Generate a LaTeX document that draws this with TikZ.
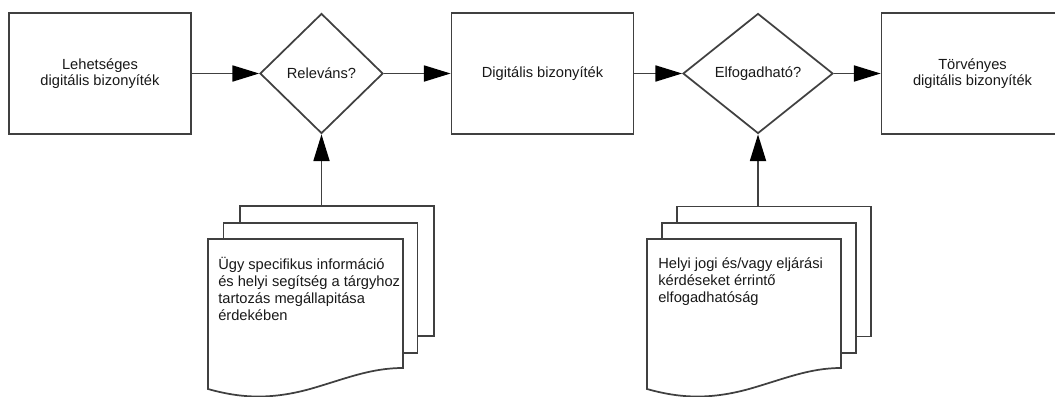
\documentclass[tikz,border=0pt]{standalone}
\usepackage{fontspec}
\setmainfont{Liberation Sans}
\usetikzlibrary{shapes.geometric,arrows.meta}

\begin{document}
\begin{tikzpicture}[x=0.75pt,y=-0.75pt,
  line/.style={draw=black!75, line width=1.3pt},
  arr/.style={line, -{Triangle[length=20pt,width=12pt,color=black,fill=black]}},
  procbox/.style={line, rectangle, fill=white, minimum width=136.5pt, minimum height=90.75pt, inner sep=0pt, align=center, text=black!90, font=\fontsize{11}{11.5}\selectfont},
  decision/.style={line, diamond, fill=white, inner sep=0pt, minimum height=90pt, text=black!90, font=\fontsize{11}{13}\selectfont},
  sheet/.style={line, rectangle, fill=white, minimum width=145.5pt, minimum height=97.5pt, inner sep=0pt},
  doctext/.style={anchor=north west, inner sep=0pt, align=left, text=black!90, font=\fontsize{11}{12.75}\selectfont}
]
\useasboundingbox (0,0) rectangle (1055,396);

% main flow
\node[procbox] (b1) at (100,73.5) {Lehetséges\\digitális bizonyíték};
\node[decision, minimum width=92.25pt] (d1) at (321.5,73.5) {Releváns?};
\node[procbox] (b2) at (542.5,73.5) {Digitális bizonyíték};
\node[decision, minimum width=112.5pt] (d2) at (758,73.5) {Elfogadható?};
\node[procbox] (b3) at (972.5,73.5) {Törvényes\\digitális bizonyíték};

% document stack 1
\node[sheet] (s1a) at (337,271) {};
\node[sheet] (s1b) at (320.5,288) {};
\draw[line, fill=white] (208,239) -- (403,239) -- (403,368)
  .. controls (370,368) and (345,379) .. (310,389)
  .. controls (270,400) and (240,398) .. (208,389) -- cycle;
\node[doctext] (t1) at (218,257)
  {Ügy specifikus információ\\és helyi segítség a tárgyhoz\\tartozás megállapitása\\érdekében};

% document stack 2
\node[sheet] (s2a) at (774,271.5) {};
\node[sheet] (s2b) at (759,288) {};
\draw[line, fill=white] (647,239) -- (841,239) -- (841,368)
  .. controls (809,368) and (784,379) .. (749,389)
  .. controls (709,400) and (679,398) .. (647,389) -- cycle;
\node[doctext] (t2) at (658,257)
  {Helyi jogi és/vagy eljárási\\kérdéseket érrintő\\elfogadhatóság};

% connectors
\draw[arr] (b1.east) -- (d1.west);
\draw[arr] (d1.east) -- (b2.west);
\draw[arr] (b2.east) -- (d2.west);
\draw[arr] (d2.east) -- (b3.west);
\draw[arr] (d1.south |- s1a.north) -- (d1.south);
\draw[arr] (d2.south |- s2a.north) -- (d2.south);
\end{tikzpicture}
\end{document}
